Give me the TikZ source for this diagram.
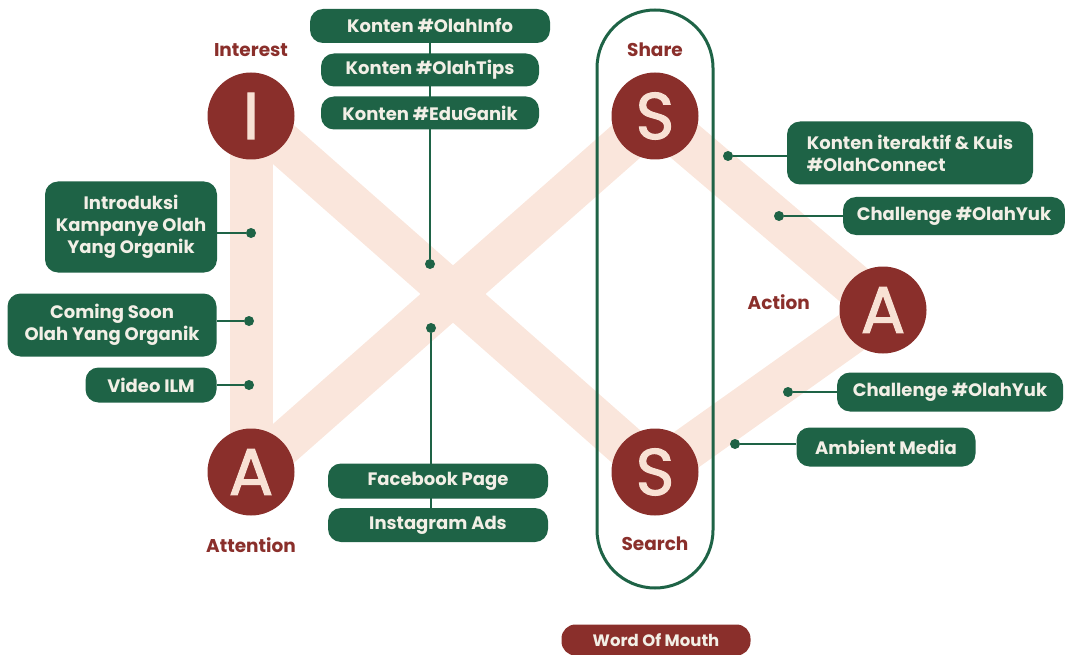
\documentclass[tikz,border=0pt]{standalone}
\usepackage{fontspec}
\setmainfont{Poppins}
\newfontfamily\letterfont{Poppins}[FakeBold=1.6]
\usepackage{tikz}
\usetikzlibrary{positioning}

\definecolor{olahgreen}{HTML}{1E6346}
\definecolor{olahred}{HTML}{8A2F2B}
\definecolor{olahpeach}{HTML}{FAE6DC}
\definecolor{olahcream}{HTML}{F8E1D4}
\definecolor{olahtext}{HTML}{F2EFE6}

\pgfdeclarelayer{bands}
\pgfdeclarelayer{links}
\pgfsetlayers{bands,links,main}

\begin{document}
\begin{tikzpicture}[
    x=1pt, y=-1pt,
    letter/.style={circle, fill=olahred, text=olahcream, minimum size=87pt, inner sep=0pt, font=\letterfont\fontsize{66}{66}\selectfont},
    stage/.style={text=olahred, font=\bfseries\fontsize{18.5}{18.5}\selectfont},
    tag/.style={rounded corners=13pt, fill=olahgreen, text=olahtext, align=center, inner sep=0pt, font=\bfseries\fontsize{18}{22}\selectfont},
    band/.style={draw=olahpeach, line width=43pt},
    link/.style={draw=olahgreen, line width=2.5pt},
    dot/.style={circle, fill=olahgreen, inner sep=0pt, minimum size=10pt}
]
\useasboundingbox (0,0) rectangle (1065,655);

% AISAS stages
\node[letter] (interest) at (251,116) {I};
\node[letter] (attention) at (251,472) {A};
\node[letter] (share) at (655,116) {S};
\node[letter] (search) at (655,472) {S};
\node[letter] (action) at (883,310) {A};

\node[stage, above=12pt of interest] (interestlbl) {Interest};
\node[stage, below=18pt of attention] (attentionlbl) {Attention};
\node[stage, above=12pt of share] (sharelbl) {Share};
\node[stage, below=18pt of search] (searchlbl) {Search};
\node[stage, left=26pt of action, yshift=8pt] (actionlbl) {Action};

% word of mouth frame
\node[draw=olahgreen, line width=3pt, rounded corners=58pt, minimum width=116pt, minimum height=578pt] (frame) at (655,299) {};
\node[tag, fill=olahred, rounded corners=14pt, minimum width=189pt, minimum height=31pt, font=\bfseries\fontsize{16.5}{18}\selectfont] (wom) at (656,640) {Word Of Mouth};

\begin{pgfonlayer}{bands}
\draw[band] (interest.center) -- (attention.center);
\draw[band] (interest.center) -- (search.center);
\draw[band] (attention.center) -- (share.center);
\draw[band] (share.center) -- (action.center);
\draw[band] (search.center) -- (action.center);
\end{pgfonlayer}

% media tags
\node[tag, minimum width=240pt, minimum height=34pt] (olahinfo) at (430,26) {Konten \#OlahInfo};
\node[tag, minimum width=218pt, minimum height=33pt] (olahtips) at (430,70) {Konten \#OlahTips};
\node[tag, minimum width=218pt, minimum height=33pt] (eduganik) at (430,113) {Konten \#EduGanik};
\node[tag, minimum width=220pt, minimum height=35pt] (fbpage) at (438,481) {Facebook Page};
\node[tag, minimum width=220pt, minimum height=34pt] (igads) at (438,525) {Instagram Ads};

\node[tag, minimum width=172pt, minimum height=91pt] (intro) at (131,227) {Introduksi\\Kampanye Olah\\Yang Organik};
\node[tag, minimum width=209pt, minimum height=63pt] (soon) at (112,325) {Coming Soon\\Olah Yang Organik};
\node[tag, minimum width=131pt, minimum height=35pt] (ilm) at (151,385) {Video ILM};

\node[tag, align=left, minimum width=246pt, minimum height=63pt] (kuis) at (910,153) {Konten iteraktif \& Kuis\\\#OlahConnect};
\node[tag, minimum width=222pt, minimum height=38pt] (yuktop) at (954,216) {Challenge \#OlahYuk};
\node[tag, minimum width=226pt, minimum height=39pt] (yukbot) at (950,392) {Challenge \#OlahYuk};
\node[tag, minimum width=179pt, minimum height=39pt] (ambient) at (886,447) {Ambient Media};

% connector dots
\node[dot] (dkonten) at (430,264) {};
\node[dot] (dads) at (431,328) {};
\node[dot] (dintro) at (251,233) {};
\node[dot] (dsoon) at (249,321) {};
\node[dot] (dilm) at (249,385) {};
\node[dot] (dkuis) at (728,156) {};
\node[dot] (dyuktop) at (779,216) {};
\node[dot] (dyukbot) at (788,392) {};
\node[dot] (dambient) at (735,444) {};

\begin{pgfonlayer}{links}
\draw[link] (olahinfo.center) -- (dkonten);
\draw[link] (dads) -- (dads |- igads.center);
\draw[link] (dintro) -- (dintro -| intro.east);
\draw[link] (dsoon) -- (dsoon -| soon.east);
\draw[link] (dilm) -- (dilm -| ilm.east);
\draw[link] (dkuis) -- (dkuis -| kuis.west);
\draw[link] (dyuktop) -- (dyuktop -| yuktop.west);
\draw[link] (dyukbot) -- (dyukbot -| yukbot.west);
\draw[link] (dambient) -- (dambient -| ambient.west);
\end{pgfonlayer}
\end{tikzpicture}
\end{document}
